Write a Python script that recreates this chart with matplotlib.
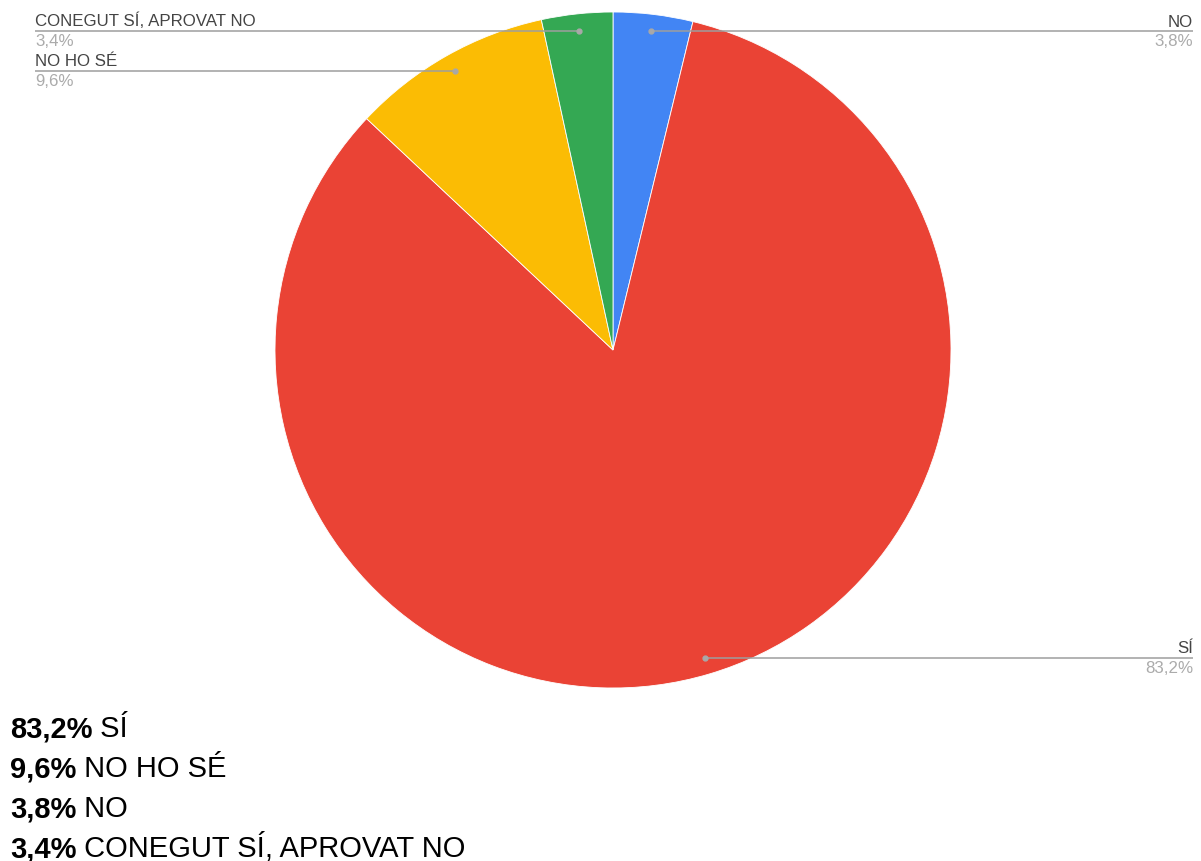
import matplotlib.pyplot as plt
import numpy as np

# slices in drawing order (clockwise from 12 o'clock)
labels = ["NO", "SÍ", "NO HO SÉ", "CONEGUT SÍ, APROVAT NO"]
values = [3.8, 83.2, 9.6, 3.4]
colors = ["#4285F4", "#EA4335", "#FBBC04", "#34A853"]

W, H = 1201, 861
plt.rcParams['font.family'] = ['Liberation Sans', 'DejaVu Sans']


def pct(v):
  return f"{v:.1f}".replace(".", ",") + "%"


fig = plt.figure(figsize=(W / 100, H / 100), dpi=100)
ax = fig.add_axes([0, 0, 1, 1])

cx, cy, R = 613, H - 350, 338
wedges, _ = ax.pie(values, colors=colors, startangle=90, counterclock=False,
                   center=(cx, cy), radius=R,
                   wedgeprops=dict(edgecolor="white", linewidth=0.6))

ax.set_xlim(0, W)
ax.set_ylim(0, H)
ax.set_aspect("auto")
ax.axis("off")

# leader lines + labels
for w, lab, v in zip(wedges, labels, values):
  mid = np.deg2rad((w.theta1 + w.theta2) / 2)
  px = cx + 0.95 * R * np.cos(mid)
  py = cy + 0.95 * R * np.sin(mid)
  if np.cos(mid) >= 0:
    x_end, ha = 1193, "right"
  else:
    x_end, ha = 35, "left"
  ax.plot([px, x_end], [py, py], color="#9e9e9e", lw=1.1, solid_capstyle="butt")
  ax.plot(px, py, "o", color="#a8a8a8", ms=3.5)
  ax.text(x_end, py + 4.5, lab, ha=ha, va="baseline", fontsize=12.2, color="#444444")
  ax.text(x_end, py - 3, pct(v), ha=ha, va="top", fontsize=12.2, color="#ababab")

# summary list below the chart
order = sorted(range(len(values)), key=lambda i: -values[i])
for k, i in enumerate(order):
  y = H - (737 + 40 * k)
  t = ax.text(10, y, pct(values[i]), fontsize=21, fontweight="bold",
              color="black", va="baseline", ha="left")
  ax.annotate(" " + labels[i], xy=(1, 0), xycoords=t, fontsize=21,
              color="black", va="bottom", ha="left")

fig.savefig("out.png", dpi=100)
